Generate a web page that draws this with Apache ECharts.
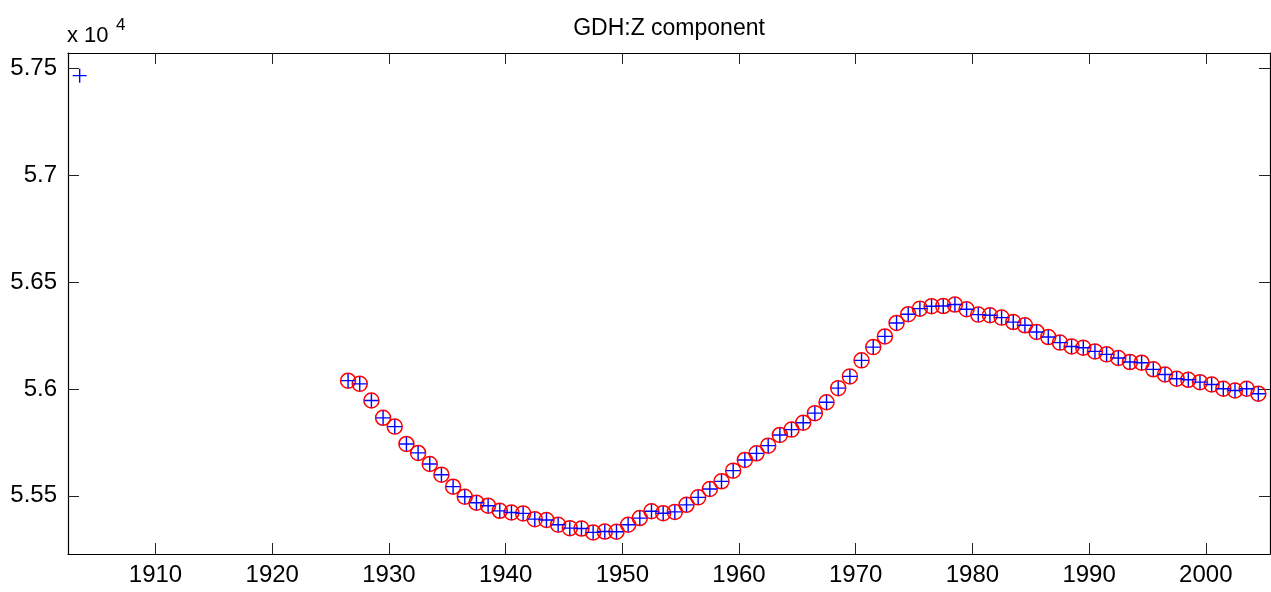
<!DOCTYPE html>
<html>
<head>
    <meta charset="utf-8">
    <title>GDH:Z component</title>
    <script type="text/javascript" src="https://cdn.jsdelivr.net/npm/echarts@6/dist/echarts.min.js"></script>
    <style type="text/css">
        html, body { margin: 0; padding: 0; background: #fff; }
        #main { width: 1271px; height: 592px; }
    </style>
</head>
<body>
<div id="main"></div>

<script type="text/javascript">
    // yearly means (nT), circles + crosses
    var years = [1926.5, 1927.5, 1928.5, 1929.5, 1930.5, 1931.5, 1932.5, 1933.5, 1934.5, 1935.5,
        1936.5, 1937.5, 1938.5, 1939.5, 1940.5, 1941.5, 1942.5, 1943.5, 1944.5, 1945.5,
        1946.5, 1947.5, 1948.5, 1949.5, 1950.5, 1951.5, 1952.5, 1953.5, 1954.5, 1955.5,
        1956.5, 1957.5, 1958.5, 1959.5, 1960.5, 1961.5, 1962.5, 1963.5, 1964.5, 1965.5,
        1966.5, 1967.5, 1968.5, 1969.5, 1970.5, 1971.5, 1972.5, 1973.5, 1974.5, 1975.5,
        1976.5, 1977.5, 1978.5, 1979.5, 1980.5, 1981.5, 1982.5, 1983.5, 1984.5, 1985.5,
        1986.5, 1987.5, 1988.5, 1989.5, 1990.5, 1991.5, 1992.5, 1993.5, 1994.5, 1995.5,
        1996.5, 1997.5, 1998.5, 1999.5, 2000.5, 2001.5, 2002.5, 2003.5, 2004.5];
    var zValues = [56039, 56024, 55946, 55865, 55824, 55743, 55701, 55649, 55599, 55543,
        55496, 55468, 55454, 55430, 55422, 55418, 55391, 55387, 55365, 55349,
        55347, 55329, 55333, 55332, 55365, 55396, 55428, 55419, 55425, 55458,
        55493, 55532, 55568, 55618, 55668, 55699, 55735, 55785, 55810, 55842,
        55887, 55938, 56004, 56059, 56134, 56196, 56246, 56309, 56350, 56376,
        56387, 56388, 56395, 56373, 56348, 56345, 56334, 56313, 56298, 56267,
        56243, 56217, 56199, 56193, 56176, 56162, 56145, 56126, 56123, 56092,
        56068, 56048, 56043, 56032, 56021, 56001, 55993, 56001, 55978];

    // extra point that has only a cross
    var extraYears = [1903.5];
    var extraValues = [57466];

    var xTicks = [1910, 1920, 1930, 1940, 1950, 1960, 1970, 1980, 1990, 2000];
    var yTicks = [55500, 56000, 56500, 57000, 57500];

    var xMin = 1902.5, xMax = 2005.5;
    var yMin = 55228, yMax = 57572;

    var circleData = [];
    for (var i = 0; i < years.length; i++) {
        circleData.push([years[i], zValues[i]]);
    }
    var crossData = [];
    for (var j = 0; j < extraYears.length; j++) {
        crossData.push([extraYears[j], extraValues[j]]);
    }
    crossData = crossData.concat(circleData);

    var font = "'Liberation Sans', Arial, Helvetica, sans-serif";
    var black = '#000';

    function xAxisCfg(pos, showLabel) {
        return {
            type: 'value',
            position: pos,
            min: xMin,
            max: xMax,
            axisLine: { show: true, onZero: false, lineStyle: { color: black, width: 1.2 } },
            axisTick: { show: true, inside: true, length: 11, customValues: xTicks, lineStyle: { color: '#222', width: 1 } },
            axisLabel: {
                show: showLabel, customValues: xTicks, margin: 9,
                color: black, fontSize: 24, fontFamily: font,
                formatter: function (v) { return String(v); }
            },
            splitLine: { show: false }
        };
    }

    function yAxisCfg(pos, showLabel) {
        return {
            type: 'value',
            position: pos,
            min: yMin,
            max: yMax,
            axisLine: { show: true, onZero: false, lineStyle: { color: black, width: 1.2 } },
            axisTick: { show: true, inside: true, length: 11, customValues: yTicks, lineStyle: { color: '#222', width: 1 } },
            axisLabel: {
                show: showLabel, customValues: yTicks, margin: 11,
                color: black, fontSize: 24, fontFamily: font,
                formatter: function (v) { return String(parseFloat((v / 10000).toFixed(4))); }
            },
            splitLine: { show: false }
        };
    }

    var myChart = echarts.init(document.getElementById('main'), null, { renderer: 'canvas' });

    var option = {
        backgroundColor: '#fff',
        animation: false,
        grid: {
            left: 68, right: 1, top: 53, bottom: 38,
            containLabel: false,
            outerBoundsMode: 'none'
        },
        xAxis: [xAxisCfg('bottom', true), xAxisCfg('top', false)],
        yAxis: [yAxisCfg('left', true), yAxisCfg('right', false)],
        graphic: [
            {
                type: 'text',
                style: { text: 'GDH:Z component', x: 669, y: 29, textAlign: 'center', textVerticalAlign: 'middle',
                    fill: black, fontSize: 23, fontFamily: font }
            },
            {
                type: 'text',
                style: { text: 'x 10', x: 67, y: 36, textAlign: 'left', textVerticalAlign: 'middle',
                    fill: black, fontSize: 22, fontFamily: font }
            },
            {
                type: 'text',
                style: { text: '4', x: 116, y: 25, textAlign: 'left', textVerticalAlign: 'middle',
                    fill: black, fontSize: 17, fontFamily: font }
            }
        ],
        series: [
            {
                name: 'circles',
                type: 'scatter',
                xAxisIndex: 0,
                yAxisIndex: 0,
                symbol: 'circle',
                symbolSize: 15,
                itemStyle: { color: 'rgba(0,0,0,0)', borderColor: '#ff0000', borderWidth: 1.5, opacity: 1 },
                data: circleData,
                silent: true
            },
            {
                name: 'crosses',
                type: 'scatter',
                xAxisIndex: 0,
                yAxisIndex: 0,
                symbol: 'path://M-7,-0.7H7V0.7H-7Z M-0.7,-7H0.7V7H-0.7Z',
                symbolSize: 14,
                itemStyle: { color: '#0000ff', opacity: 1 },
                data: crossData,
                silent: true
            }
        ]
    };

    myChart.setOption(option);
</script>
</body>
</html>
